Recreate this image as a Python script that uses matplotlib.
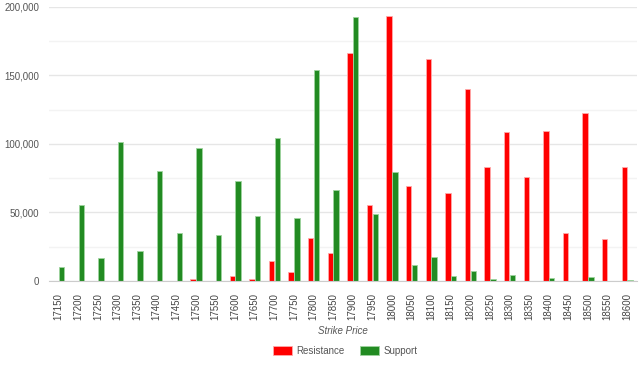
import numpy as np
import matplotlib.pyplot as plt

strikes = [17150, 17200, 17250, 17300, 17350, 17400, 17450, 17500, 17550, 17600,
           17650, 17700, 17750, 17800, 17850, 17900, 17950, 18000, 18050, 18100,
           18150, 18200, 18250, 18300, 18350, 18400, 18450, 18500, 18550, 18600]
resistance = [200, 200, 200, 200, 200, 200, 200, 1700, 200, 3400,
              1200, 14600, 6300, 31100, 20600, 166000, 55200, 193000, 69300, 162100,
              64400, 140200, 83100, 108600, 75600, 109400, 34800, 122700, 30800, 83100]
support = [10400, 55300, 17000, 101300, 22100, 80200, 35200, 96700, 33800, 73200,
           47400, 104500, 45900, 153600, 66300, 192500, 48600, 79700, 11400, 17700,
           3400, 7500, 1200, 4100, 300, 2200, 0, 2700, 0, 400]

plt.rcParams['font.family'] = ['Liberation Sans', 'DejaVu Sans']

fig = plt.figure(figsize=(6.39, 3.66), dpi=100)
ax = fig.add_axes([49/639, 1 - 281/366, 588/639, (281 - 6.7)/366])

x = np.arange(len(strikes))
w = 0.28
ax.bar(x - 0.15, resistance, w, color='#ff0000', edgecolor='#ffaaaa', linewidth=0.6,
       label='Resistance', zorder=3)
ax.bar(x + 0.15, support, w, color='#228b22', edgecolor='#9fd49f', linewidth=0.6,
       label='Support', zorder=3)

ax.set_xlim(-0.5, len(strikes) - 0.5)
ax.set_ylim(0, 200000)
ax.set_yticks([0, 50000, 100000, 150000, 200000])
ax.set_yticks([25000, 75000, 125000, 175000], minor=True)
ax.set_yticklabels([f'{v:,}' for v in [0, 50000, 100000, 150000, 200000]],
                   fontsize=7, color='#555555')
ax.grid(axis='y', which='major', color='#e6e6e6', linewidth=1, zorder=0)
ax.grid(axis='y', which='minor', color='#f3f3f3', linewidth=1, zorder=0)
ax.tick_params(axis='y', which='both', length=0, pad=7)

ax.set_xticks(x)
ax.set_xticklabels([str(s) for s in strikes], rotation=90, fontsize=7, color='#444444')
ax.tick_params(axis='x', length=0, pad=9)

for side in ['top', 'right', 'left']:
    ax.spines[side].set_visible(False)
ax.spines['bottom'].set_color('#cccccc')
ax.spines['bottom'].set_zorder(4)

ax.set_xlabel('Strike Price', fontsize=7, style='italic', color='#555555')
ax.xaxis.set_label_coords(0.5, (281 - 331) / 274.3)
ax.xaxis.label.set_va('center')

leg = fig.legend(loc='center', bbox_to_anchor=(345/639, 1 - 351/366), ncol=2,
                 frameon=False, fontsize=7, handlelength=2.0, handleheight=0.95,
                 columnspacing=1.6, handletextpad=0.4)
for t in leg.get_texts():
    t.set_color('#555555')

fig.savefig('out.png', dpi=100)
